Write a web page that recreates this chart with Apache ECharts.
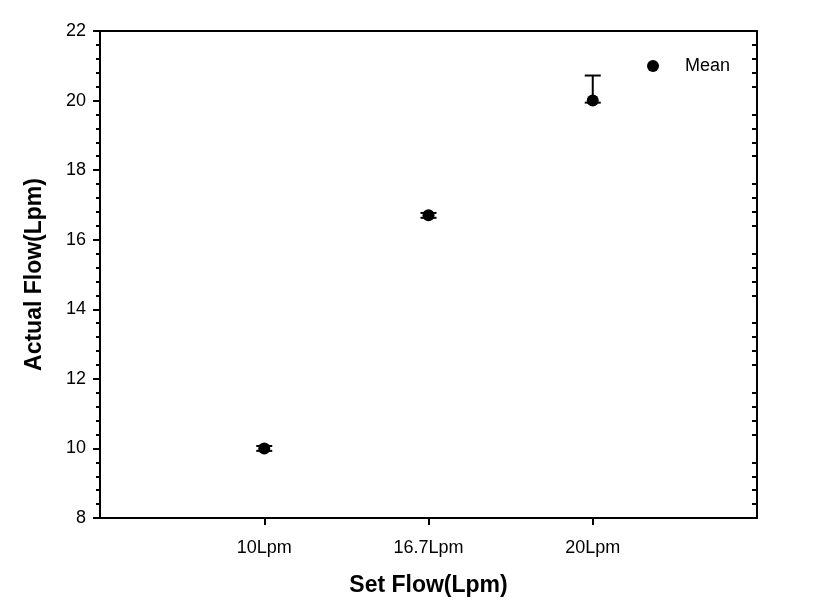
<!DOCTYPE html>
<html>
<head>
<meta charset="utf-8">
<script src="https://cdn.jsdelivr.net/npm/echarts@6/dist/echarts.min.js"></script>
<style>html,body{margin:0;padding:0;background:#fff}#c{width:830px;height:605px}</style>
</head>
<body>
<div id="c"></div>
<script>
const categories = ['', '10Lpm', '16.7Lpm', '20Lpm', ''];
const meanValues = [null, 10.0, 16.7, 20.0, null];
const errLower = [null, 9.93, 16.63, 19.94, null];
const errUpper = [null, 10.07, 16.77, 20.72, null];
const yTicks = [8, 10, 12, 14, 16, 18, 20, 22];

const FONT = '"Liberation Sans", Arial, sans-serif';
const chart = echarts.init(document.getElementById('c'));

const errData = [];
for (let i = 0; i < categories.length; i++) {
  if (meanValues[i] !== null) errData.push([i, errLower[i], errUpper[i]]);
}
const meanData = [];
for (let i = 0; i < categories.length; i++) {
  if (meanValues[i] !== null) meanData.push([i, meanValues[i]]);
}

chart.setOption({
  animation: false,
  backgroundColor: '#fff',
  grid: { left: 100, right: 73, top: 31, bottom: 87, containLabel: false },
  legend: {
    data: ['Mean'],
    left: 642, top: 52,
    itemWidth: 12, itemHeight: 12,
    icon: 'circle',
    textStyle: { fontFamily: FONT, fontSize: 18, color: '#000', padding: [0, 0, 0, 21] }
  },
  xAxis: [{
    type: 'category',
    data: categories,
    boundaryGap: false,
    position: 'bottom',
    name: 'Set Flow(Lpm)',
    nameLocation: 'middle',
    nameGap: 56,
    nameTextStyle: { fontFamily: FONT, fontSize: 23, fontWeight: 'bold', color: '#000' },
    axisLine: { lineStyle: { color: '#000', width: 2 } },
    axisTick: { show: true, length: 7, lineStyle: { color: '#000', width: 2 },
      interval: function (idx) { return idx >= 1 && idx <= 3; } },
    axisLabel: { fontFamily: FONT, fontSize: 18, color: '#000', margin: 21,
      interval: function (idx) { return idx >= 1 && idx <= 3; } },
    splitLine: { show: false }
  }, {
    type: 'category',
    data: categories,
    boundaryGap: false,
    position: 'top',
    axisLine: { lineStyle: { color: '#000', width: 2 } },
    axisTick: { show: false },
    axisLabel: { show: false },
    splitLine: { show: false }
  }],
  yAxis: [{
    type: 'value',
    min: yTicks[0], max: yTicks[yTicks.length - 1], interval: 2,
    position: 'left',
    name: 'Actual Flow(Lpm)',
    nameLocation: 'middle',
    nameGap: 54,
    nameTextStyle: { fontFamily: FONT, fontSize: 23, fontWeight: 'bold', color: '#000' },
    axisLine: { show: true, lineStyle: { color: '#000', width: 2 } },
    axisTick: { show: true, length: 7, lineStyle: { color: '#000', width: 2 } },
    minorTick: { show: true, splitNumber: 5, length: 4, lineStyle: { color: '#000', width: 2 } },
    axisLabel: { fontFamily: FONT, fontSize: 18, color: '#000', margin: 14 },
    splitLine: { show: false }
  }, {
    type: 'value',
    min: yTicks[0], max: yTicks[yTicks.length - 1], interval: 2,
    position: 'right',
    axisLine: { show: true, lineStyle: { color: '#000', width: 2 } },
    axisTick: { show: true, inside: true, length: 0, lineStyle: { color: '#000', width: 0 } },
    minorTick: { show: true, splitNumber: 5, length: 5, lineStyle: { color: '#000', width: 2 } },
    axisLabel: { show: false },
    splitLine: { show: false }
  }],
  series: [{
    name: 'Error',
    type: 'custom',
    xAxisIndex: 0, yAxisIndex: 0,
    data: errData,
    z: 3,
    renderItem: function (params, api) {
      const x = api.value(0);
      const lo = api.coord([x, api.value(1)]);
      const hi = api.coord([x, api.value(2)]);
      const half = 8;
      const st = { stroke: '#000', lineWidth: 2 };
      return {
        type: 'group',
        children: [
          { type: 'line', shape: { x1: lo[0], y1: lo[1], x2: hi[0], y2: hi[1] }, style: st },
          { type: 'line', shape: { x1: lo[0] - half, y1: lo[1], x2: lo[0] + half, y2: lo[1] }, style: st },
          { type: 'line', shape: { x1: hi[0] - half, y1: hi[1], x2: hi[0] + half, y2: hi[1] }, style: st }
        ]
      };
    }
  }, {
    name: 'Mean',
    type: 'scatter',
    xAxisIndex: 0, yAxisIndex: 0,
    data: meanData,
    symbol: 'circle',
    symbolSize: 12,
    itemStyle: { color: '#000', opacity: 1 },
    z: 4
  }]
});
</script>
</body>
</html>
